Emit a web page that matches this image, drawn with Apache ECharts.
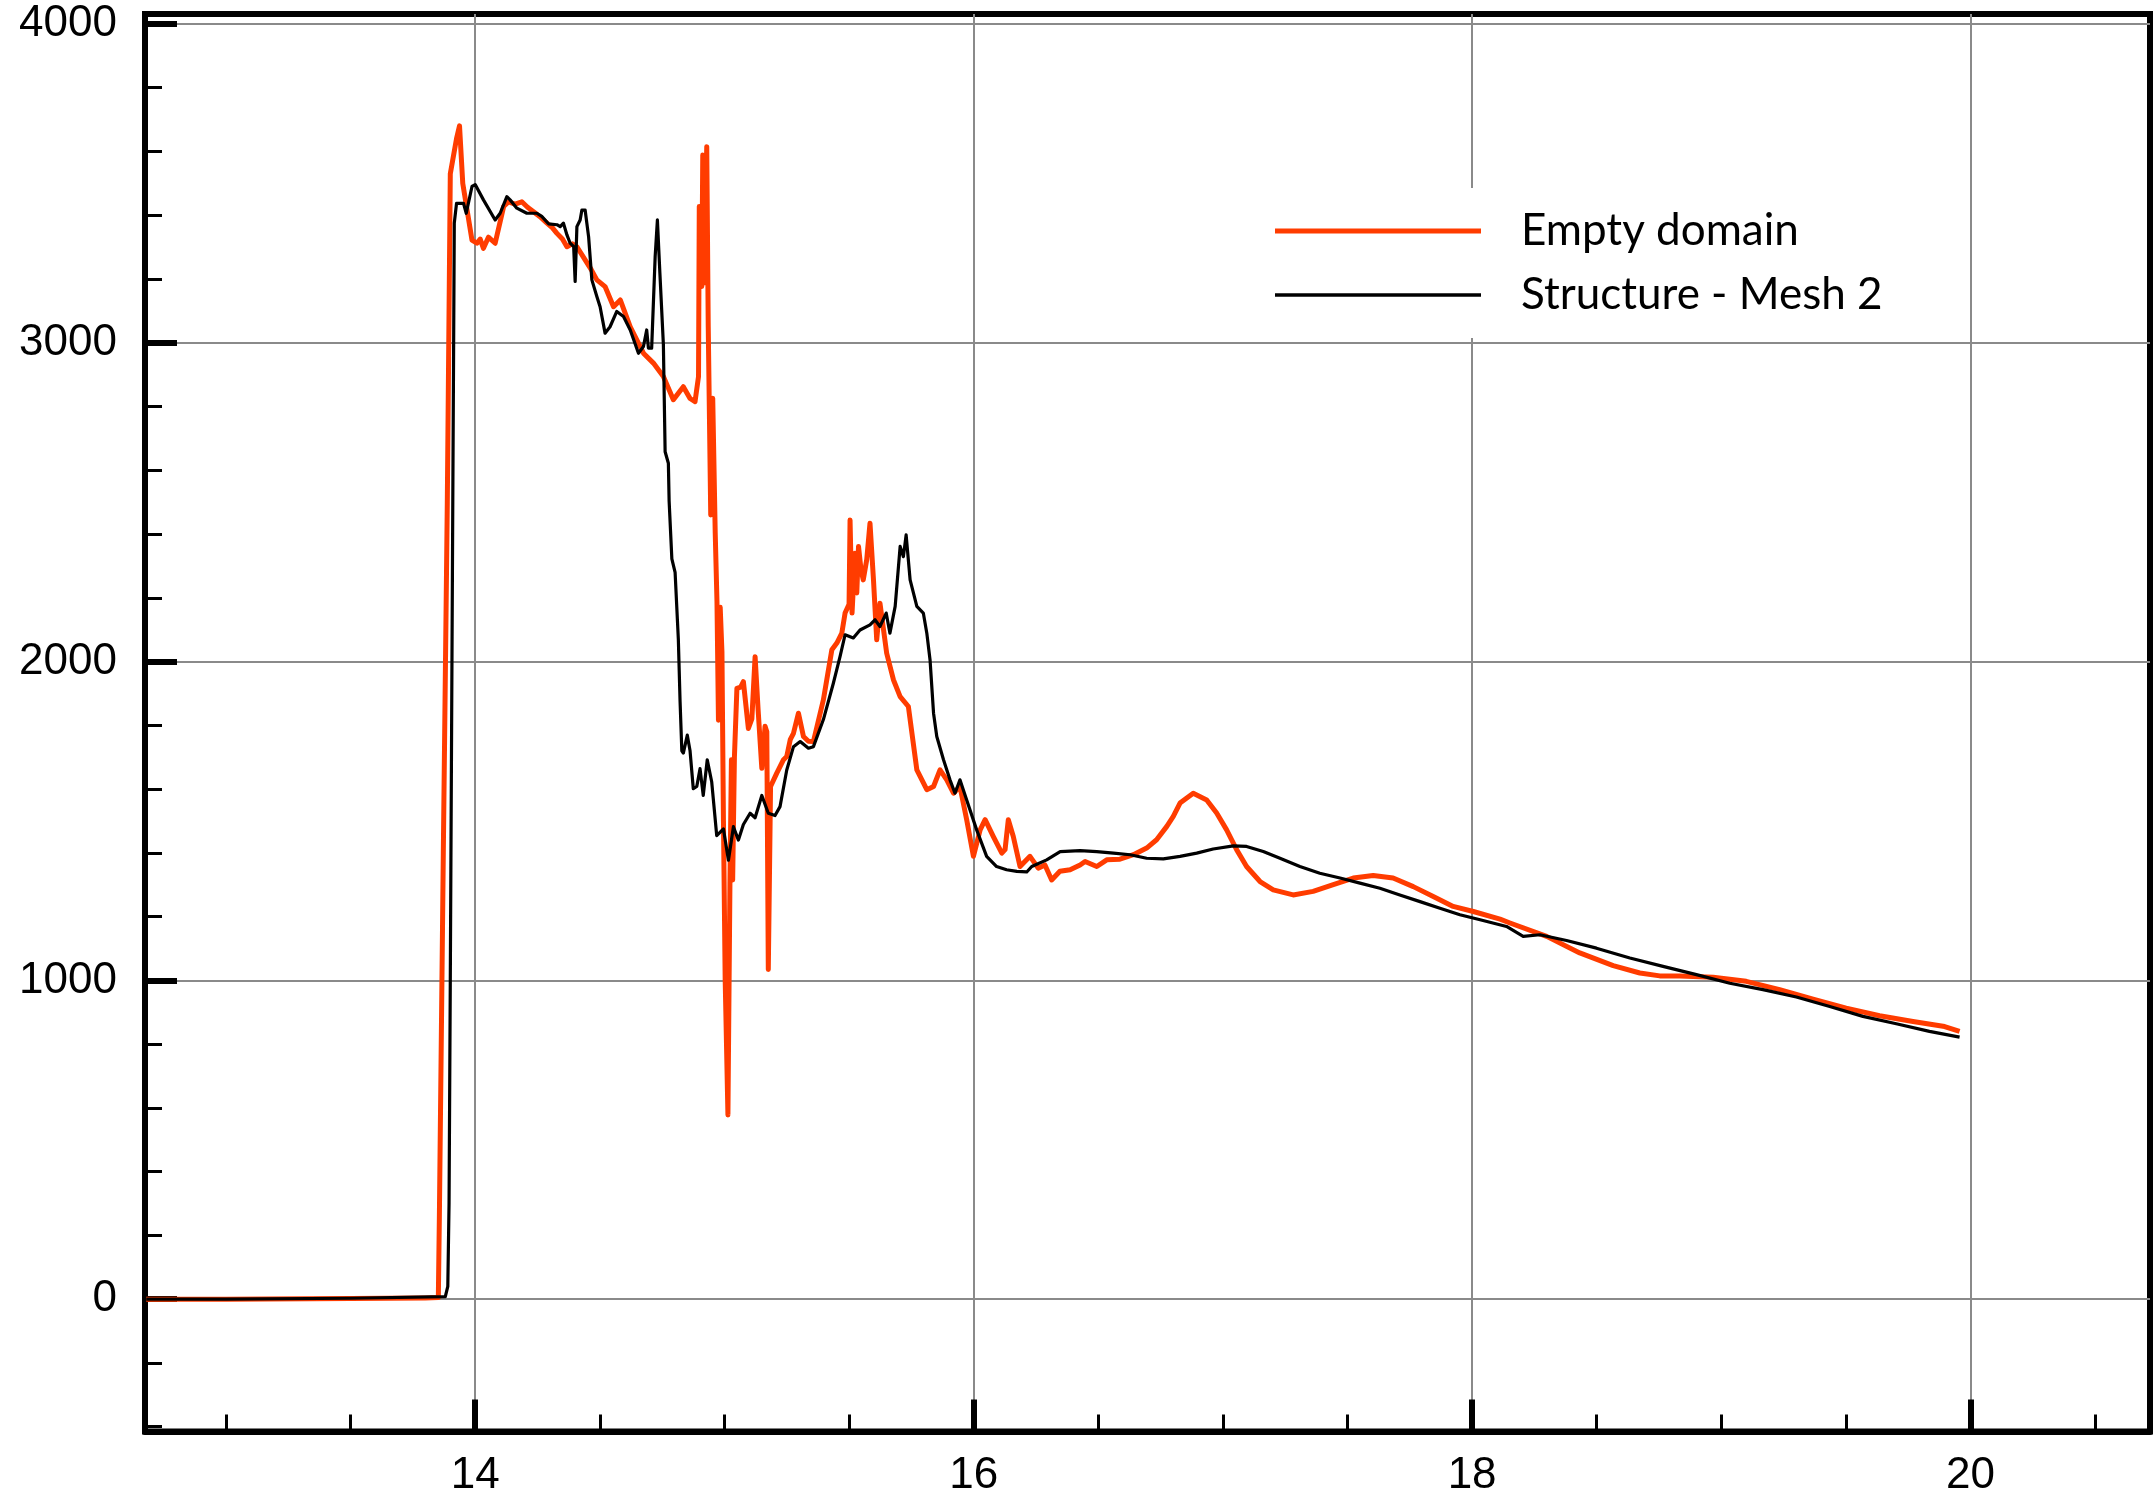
<!DOCTYPE html>
<html><head><meta charset="utf-8">
<script src="https://cdn.jsdelivr.net/npm/echarts@6/dist/echarts.min.js"></script>
<style>html,body{margin:0;padding:0;background:#fff}#c{width:2154px;height:1503px}</style>
</head><body><div id="c"></div>
<script>
// ---- data ----
const seriesNames = ['Empty domain', 'Structure - Mesh 2'];

const redX = [12.68,13.0,13.5,13.80,13.852,13.856,13.872,13.888,13.90,13.925,13.937,13.95,13.987,14.007,14.02,14.033,14.053,14.08,14.114,14.134,14.16,14.187,14.21,14.234,14.26,14.288,14.31,14.328,14.35,14.368,14.39,14.408,14.441,14.465,14.488,14.521,14.555,14.582,14.622,14.675,14.715,14.755,14.795,14.835,14.862,14.882,14.896,14.899,14.909,14.913,14.918,14.929,14.935,14.945,14.953,14.963,14.970,14.976,14.983,14.99,14.996,15.003,15.014,15.022,15.028,15.033,15.04,15.05,15.065,15.076,15.096,15.11,15.123,15.135,15.15,15.163,15.17,15.176,15.185,15.21,15.237,15.25,15.264,15.277,15.297,15.317,15.337,15.357,15.397,15.431,15.451,15.471,15.484,15.50,15.504,15.512,15.524,15.531,15.538,15.548,15.557,15.571,15.584,15.598,15.611,15.624,15.651,15.678,15.705,15.738,15.772,15.812,15.839,15.865,15.892,15.919,15.945,15.972,15.999,16.026,16.046,16.079,16.113,16.126,16.139,16.159,16.186,16.226,16.259,16.286,16.313,16.346,16.387,16.427,16.447,16.494,16.534,16.587,16.641,16.694,16.734,16.775,16.801,16.828,16.881,16.935,16.975,17.015,17.055,17.095,17.149,17.202,17.282,17.362,17.443,17.523,17.603,17.683,17.764,17.844,17.924,18.005,18.112,18.152,18.299,18.432,18.566,18.673,18.753,18.833,18.967,19.1,19.234,19.368,19.501,19.635,19.769,19.896,19.956];
const redY = [0,0,2,4,5,250,1400,2500,3530,3640,3680,3500,3322,3312,3325,3296,3331,3312,3427,3442,3435,3442,3425,3411,3395,3375,3360,3343,3325,3301,3310,3301,3260,3230,3197,3176,3113,3134,3050,2967,2936,2894,2821,2862,2825,2815,2894,3427,3176,3589,3187,3615,3050,2460,2826,2403,2190,1816,2170,2030,1500,1000,578,1300,1692,1315,1700,1916,1920,1937,1790,1820,2015,1850,1665,1797,1780,1034,1608,1650,1692,1702,1755,1775,1838,1765,1750,1749,1880,2037,2058,2089,2152,2180,2444,2152,2340,2215,2361,2288,2256,2320,2434,2256,2068,2183,2026,1943,1890,1859,1660,1598,1608,1660,1629,1587,1608,1504,1389,1472,1504,1451,1399,1410,1504,1451,1357,1389,1352,1362,1315,1342,1347,1362,1373,1357,1378,1380,1394,1415,1441,1483,1514,1556,1587,1566,1525,1472,1410,1357,1310,1284,1268,1279,1300,1321,1329,1321,1294,1263,1232,1216,1192,1180,1138,1086,1046,1023,1014,1014,1010,997,971,941,913,889,871,855,840];

const blackX = [12.68,13.0,13.5,13.88,13.89,13.895,13.90,13.91,13.916,13.925,13.953,13.964,13.987,14.0,14.033,14.08,14.10,14.127,14.14,14.167,14.207,14.247,14.267,14.294,14.328,14.341,14.354,14.368,14.381,14.395,14.401,14.408,14.421,14.428,14.441,14.455,14.468,14.488,14.501,14.521,14.541,14.568,14.595,14.622,14.655,14.675,14.688,14.695,14.708,14.722,14.731,14.741,14.755,14.762,14.775,14.778,14.789,14.802,14.815,14.822,14.829,14.835,14.851,14.862,14.875,14.889,14.902,14.915,14.931,14.949,14.969,14.996,15.016,15.036,15.056,15.076,15.103,15.123,15.15,15.176,15.203,15.223,15.25,15.277,15.304,15.337,15.357,15.397,15.437,15.464,15.484,15.517,15.544,15.584,15.604,15.624,15.649,15.664,15.685,15.705,15.718,15.729,15.745,15.772,15.798,15.812,15.825,15.839,15.852,15.879,15.905,15.925,15.945,15.972,16.012,16.052,16.092,16.132,16.173,16.213,16.233,16.293,16.347,16.427,16.494,16.561,16.628,16.694,16.761,16.828,16.895,16.961,17.042,17.095,17.162,17.229,17.309,17.389,17.47,17.55,17.63,17.71,17.791,17.871,17.951,18.032,18.138,18.205,18.272,18.379,18.499,18.633,18.766,18.9,19.034,19.167,19.301,19.435,19.568,19.702,19.835,19.956];
const blackY = [0,0,3,8,40,300,1000,2500,3375,3437,3437,3406,3490,3496,3448,3385,3406,3458,3448,3422,3406,3406,3396,3373,3370,3364,3375,3338,3312,3301,3192,3364,3385,3416,3416,3332,3197,3145,3113,3030,3050,3098,3082,3040,2967,2988,3040,2983,2983,3270,3385,3218,2994,2658,2622,2504,2322,2280,2070,1874,1720,1713,1769,1720,1601,1608,1664,1580,1692,1622,1454,1475,1377,1482,1440,1489,1524,1510,1580,1524,1517,1545,1660,1733,1749,1728,1733,1818,1932,2016,2084,2074,2099,2115,2131,2110,2152,2089,2173,2361,2329,2397,2256,2173,2152,2089,2005,1838,1765,1692,1629,1587,1629,1566,1472,1389,1357,1347,1342,1340,1357,1378,1404,1407,1404,1399,1394,1383,1381,1389,1399,1412,1422,1420,1404,1383,1357,1336,1321,1305,1289,1268,1247,1226,1206,1190,1169,1138,1143,1125,1101,1070,1044,1018,991,971,948,918,887,864,840,822];

const xMajorTicks = [14, 16, 18, 20];
const xMinorTicks = [13, 13.5, 14.5, 15, 15.5, 16.5, 17, 17.5, 18.5, 19, 19.5, 20.5];
const yMajorTicks = [0, 1000, 2000, 3000, 4000];
const yMinorTicks = [-400, -200, 200, 400, 600, 800, 1200, 1400, 1600, 1800, 2200, 2400, 2600, 2800, 3200, 3400, 3600, 3800];

const X_MIN = 12.675, X_MAX = 20.72, Y_MIN = -415, Y_MAX = 4031;

// ---- chart ----
const pairs = (xs, ys) => xs.map((x, i) => [x, ys[i]]);
const chart = echarts.init(document.getElementById('c'), null, {renderer: 'canvas'});
const labelFont = {fontFamily: 'Liberation Sans', fontSize: 44, color: '#000'};
const plain = v => String(v);

chart.setOption({
  animation: false,
  backgroundColor: '#fff',
  grid: {left: 145, right: 4, top: 14, bottom: 71.5, show: true, borderColor: '#000', borderWidth: 6,
         backgroundColor: 'transparent', containLabel: false, outerBoundsMode: 'none'},
  legend: {
    orient: 'vertical', left: 1255, top: 188, padding: [21, 30, 21, 20],
    itemGap: 20, itemWidth: 206, itemHeight: 20, backgroundColor: '#fff', selectedMode: false,
    textStyle: {fontFamily: 'Lato', fontSize: 44, color: '#000', lineHeight: 44, padding: [0, 0, 0, 35]},
    data: [
      {name: seriesNames[0], icon: 'path://M0,0 L206,0 L206,5 L0,5 Z'},
      {name: seriesNames[1], icon: 'path://M0,0 L206,0 L206,3.4 L0,3.4 Z'}
    ]
  },
  xAxis: [
    {type: 'value', min: X_MIN, max: X_MAX, position: 'bottom',
     axisLine: {show: true, onZero: false, lineStyle: {color: '#000', width: 6}},
     axisTick: {show: true, inside: true, length: 32, customValues: xMajorTicks, lineStyle: {color: '#000', width: 6}},
     axisLabel: Object.assign({show: true, margin: 22, customValues: xMajorTicks, formatter: plain}, labelFont),
     splitLine: {show: true, lineStyle: {color: '#8a8a8a', width: 2}}},
    {type: 'value', min: X_MIN, max: X_MAX, position: 'bottom', offset: 0,
     axisLine: {show: false, onZero: false},
     axisTick: {show: true, inside: true, length: 17, customValues: xMinorTicks, lineStyle: {color: '#000', width: 3}},
     axisLabel: {show: false}, splitLine: {show: false}}
  ],
  yAxis: [
    {type: 'value', min: Y_MIN, max: Y_MAX, position: 'left',
     axisLine: {show: true, onZero: false, lineStyle: {color: '#000', width: 6}},
     axisTick: {show: true, inside: true, length: 32, customValues: yMajorTicks, lineStyle: {color: '#000', width: 6}},
     axisLabel: Object.assign({show: true, margin: 28, customValues: yMajorTicks, formatter: plain}, labelFont),
     splitLine: {show: true, lineStyle: {color: '#8a8a8a', width: 2}}},
    {type: 'value', min: Y_MIN, max: Y_MAX, position: 'left', offset: 0,
     axisLine: {show: false, onZero: false},
     axisTick: {show: true, inside: true, length: 17, customValues: yMinorTicks, lineStyle: {color: '#000', width: 3}},
     axisLabel: {show: false}, splitLine: {show: false}}
  ],
  series: [
    {name: seriesNames[0], type: 'line', xAxisIndex: 0, yAxisIndex: 0, data: pairs(redX, redY),
     symbol: 'none', showSymbol: false, clip: true,
     lineStyle: {color: '#ff3c00', width: 5, join: 'round'}, itemStyle: {color: '#ff3c00'}},
    {name: seriesNames[1], type: 'line', xAxisIndex: 0, yAxisIndex: 0, data: pairs(blackX, blackY),
     symbol: 'none', showSymbol: false, clip: true,
     lineStyle: {color: '#000', width: 3.2, join: 'round'}, itemStyle: {color: '#000'}}
  ]
});
</script></body></html>
